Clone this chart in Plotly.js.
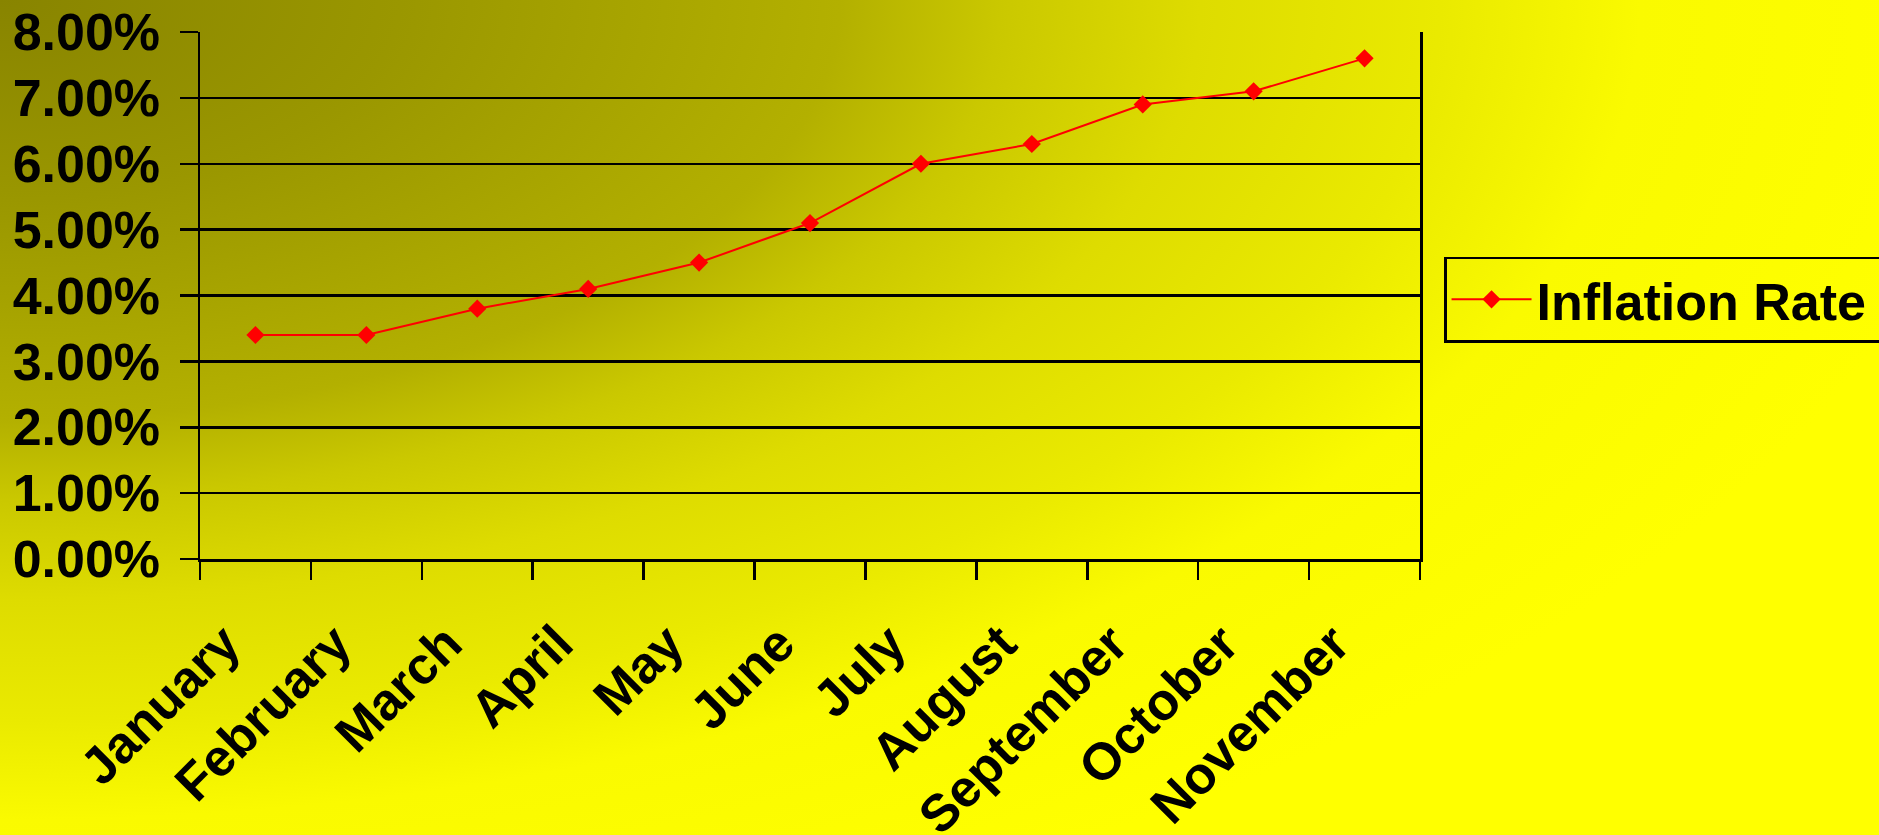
<!DOCTYPE html>
<html>
<head>
<meta charset="utf-8">
<script src="https://cdn.plot.ly/plotly-3.0.1.min.js"></script>
<style>
  html, body { margin: 0; padding: 0; }
  body {
    width: 1879px; height: 835px; overflow: hidden;
    background: radial-gradient(ellipse 2000px 1000px at 0px 0px,
      #888400 0%, #9a9700 20%, #b3b000 42%, #cac800 50%, #dedc00 60%, #eaea00 72%, #fafa00 82%, #ffff00 100%);
  }
  #chart { width: 1879px; height: 835px; }
</style>
</head>
<body>
<div id="chart"></div>
<script>
const months = ["January", "February", "March", "April", "May", "June",
                "July", "August", "September", "October", "November"];
const inflationRate = [0.034, 0.034, 0.038, 0.041, 0.045, 0.051,
                       0.060, 0.063, 0.069, 0.071, 0.076];
const seriesName = "Inflation Rate";

const FONT = "'Liberation Sans', Arial, Helvetica, sans-serif";
// labels padded with no-break spaces so the rotated text sits like the original
const monthLabels = months.map(m => m + "\u00a0\u00a0\u00a0");

const trace = {
  type: "scatter",
  mode: "lines+markers",
  x: months,
  y: inflationRate,
  name: seriesName + "\u00a0\u00a0\u00a0",
  line: { color: "#ff0000", width: 2 },
  marker: { symbol: "diamond", size: 14, color: "#ff0000" }
};

const layout = {
  width: 1879,
  height: 835,
  paper_bgcolor: "rgba(0,0,0,0)",
  plot_bgcolor: "rgba(0,0,0,0)",
  margin: { l: 200, r: 459, t: 32, b: 276, pad: 0, autoexpand: false },
  showlegend: true,
  font: { family: FONT, color: "#000000", size: 52, weight: "bold" },
  xaxis: {
    type: "category",
    range: [-0.5, 10.5],
    autorange: false,
    automargin: false,
    tickmode: "array",
    tickvals: months,
    ticktext: monthLabels,
    tickson: "boundaries",
    ticks: "outside",
    ticklen: 18,
    tickwidth: 2.5,
    tickcolor: "#000000",
    tickangle: -45,
    ticklabelstandoff: 0,
    showline: true,
    linecolor: "#000000",
    linewidth: 2.5,
    showgrid: false,
    tickfont: { family: FONT, size: 52, color: "#000000", weight: "bold" },
    fixedrange: true
  },
  yaxis: {
    range: [0, 0.08],
    autorange: false,
    automargin: false,
    dtick: 0.01,
    tick0: 0,
    tickformat: ".2%",
    ticks: "outside",
    ticklen: 18,
    tickwidth: 2.5,
    tickcolor: "#000000",
    ticklabelstandoff: 9,
    showline: true,
    mirror: true,
    linecolor: "#000000",
    linewidth: 2.5,
    showgrid: true,
    gridcolor: "#000000",
    gridwidth: 2.5,
    zeroline: false,
    tickfont: { family: FONT, size: 52, color: "#000000", weight: "bold" },
    fixedrange: true
  },
  legend: {
    x: 1.0197,
    xanchor: "left",
    y: 0.574,
    yanchor: "top",
    bgcolor: "rgba(0,0,0,0)",
    bordercolor: "#000000",
    borderwidth: 2.5,
    itemwidth: 80,
    font: { family: FONT, size: 52, color: "#000000", weight: "bold" }
  }
};

Plotly.newPlot("chart", [trace], layout, { displayModeBar: false, staticPlot: true });
</script>
</body>
</html>
